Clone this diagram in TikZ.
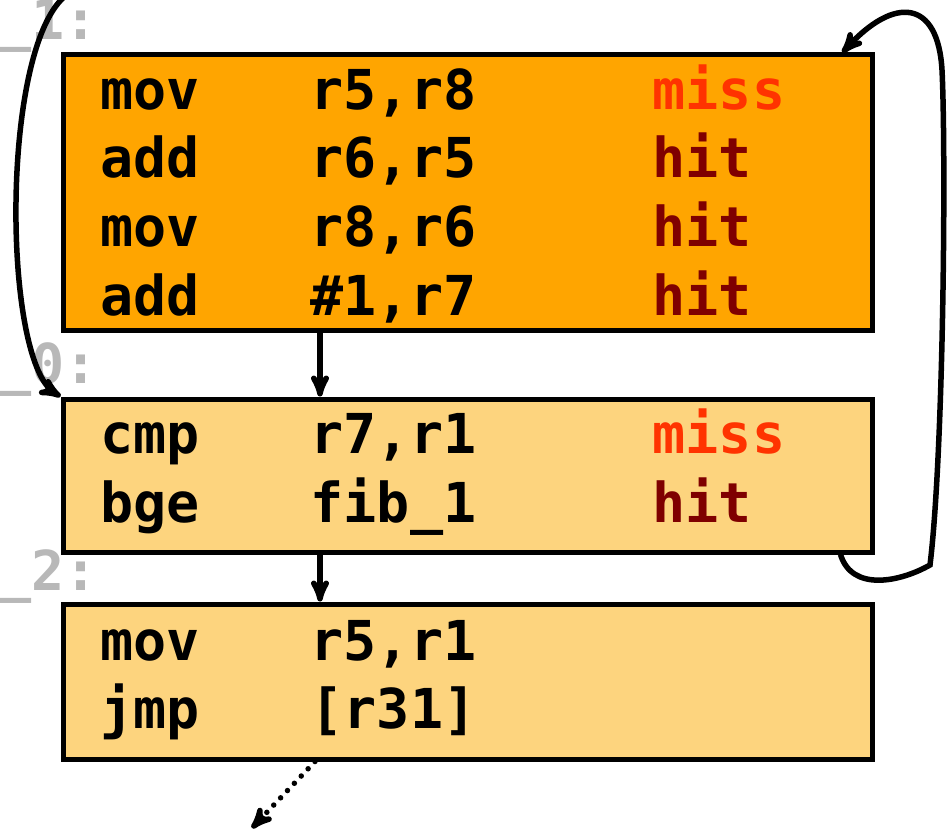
\documentclass[tikz,border=0pt]{standalone}
\usepackage{fontspec}
\setmonofont{DejaVu Sans Mono}
\usetikzlibrary{arrows,shapes}

\definecolor{hotblock}{HTML}{FFA500}
\definecolor{coldblock}{HTML}{FDD47E}
\definecolor{misscol}{HTML}{FF3300}
\definecolor{hitcol}{HTML}{7F0000}
\definecolor{lblcol}{HTML}{B8B8B8}

\newcommand{\insn}[3]{\makebox[210pt][l]{#1}\makebox[342pt][l]{#2}#3}
\newcommand{\miss}{\textcolor{misscol}{miss}}
\newcommand{\hit}{\textcolor{hitcol}{hit}}

\begin{document}
\begin{tikzpicture}[x=1pt,y=-1pt,->,>=stealth',line width=5.5pt,
    font=\fontsize{55}{60}\selectfont\ttfamily\bfseries]
    \tikzset{blk/.style={draw=black,line width=5pt,minimum width=809pt,inner sep=0pt,-},
             row/.style={anchor=base west,inner sep=0pt},
             lbl/.style={anchor=base west,inner sep=0pt,text=lblcol}}
    \useasboundingbox (0,0) rectangle (948,832);
                \node[blk,fill=hotblock,minimum height=275pt](fib1)at(467.5, 192.5){};
                \node[blk,fill=coldblock,minimum height=153pt](fib0)at(467.5, 475.5){};
                \node[blk,fill=coldblock,minimum height=155pt](fib2)at(467.5, 681.5){};
                \node[lbl](l1)at(-4, 40){\_1:};
                \node[lbl](l0)at(-4, 383){\_0:};
                \node[lbl](l2)at(-4, 590){\_2:};
                \node[row](a1)at(98, 110){\insn{mov}{r5,r8}{\miss}};
                \node[row](a2)at(98, 178){\insn{add}{r6,r5}{\hit}};
                \node[row](a3)at(98, 246){\insn{mov}{r8,r6}{\hit}};
                \node[row](a4)at(98, 315){\insn{add}{\#1,r7}{\hit}};
                \node[row](b1)at(98, 453){\insn{cmp}{r7,r1}{\miss}};
                \node[row](b2)at(98, 522){\insn{bge}{fib\_1}{\hit}};
                \node[row](c1)at(98, 660){\insn{mov}{r5,r1}{}};
                \node[row](c2)at(98, 728){\insn{jmp}{[r31]}{}};
                \coordinate(col)at(320, 0);
                \coordinate(entry)at(75, -10);
                \coordinate(exit)at(252, 828);
                \draw(fib1.south -| col) -- (fib0.north -| col);
                \draw(fib0.south -| col) -- (fib2.north -| col);
                \draw(entry) .. controls (0, 20) and (0, 360) .. (fib0.north west);
                \draw([xshift=-34pt]fib0.south east) .. controls (852, 592) and (900, 582) .. (930, 565)
                    .. controls (944, 450) and (946, 150) .. (942, 70)
                    .. controls (938, 0) and (895, -5) .. ([xshift=-32pt]fib1.north east);
                \draw[dash pattern=on 0pt off 10pt,line cap=round]([xshift=-5pt]fib2.south -| col) -- (exit);
            \end{tikzpicture}
\end{document}
